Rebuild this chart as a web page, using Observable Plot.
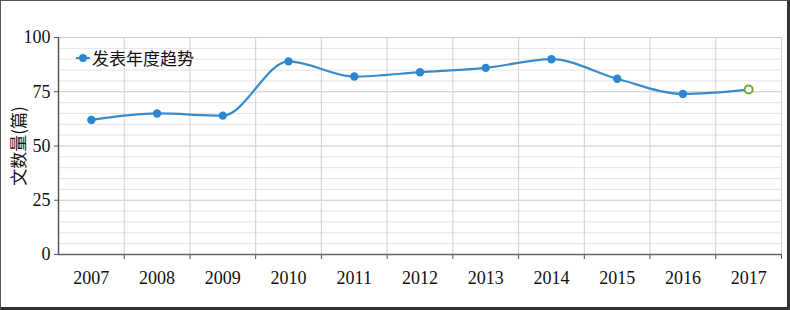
<!DOCTYPE html>
<html>
<head>
<meta charset="utf-8">
<script src="https://cdn.jsdelivr.net/npm/d3@7"></script>
<script src="https://cdn.jsdelivr.net/npm/@observablehq/plot@0.6"></script>
<style>
  html, body { margin: 0; padding: 0; background: #fff; }
  #wrap { position: relative; width: 790px; height: 310px; overflow: hidden; }
  #border { position: absolute; left: 0; top: 0; width: 790px; height: 310px; box-sizing: border-box;
    border-left: 1px solid #555; border-top: 1px solid #555; border-right: 3px solid #333; border-bottom: 3px solid #333; pointer-events: none; }
  #legend { position: absolute; left: 76px; top: 45px; display: flex; align-items: center;
    font-family: "Noto Sans CJK SC", sans-serif; font-size: 17px; color: #111; }
  #legend svg { margin-right: 2px; }
</style>
</head>
<body>
<div id="wrap">
  <div id="chart"></div>
  <div id="legend"><svg width="14" height="12"><line x1="0" y1="6" x2="14" y2="6" stroke="#3a8bc9" stroke-width="2"/><circle cx="7" cy="6" r="4" fill="#2e86d1"/></svg><span>发表年度趋势</span></div>
  <div id="border"></div>
</div>
<script>
const years = ["2007","2008","2009","2010","2011","2012","2013","2014","2015","2016","2017"];
const counts = [62, 65, 64, 89, 82, 84, 86, 90, 81, 74, 76];
const yMajorTicks = [0, 25, 50, 75, 100];
const yMinorStep = 5;
const yLabel = "文数量(篇)";

const data = years.map((y, i) => ({i, year: y, value: counts[i], last: i === years.length - 1}));
const boundaries = d3.range(-0.5, years.length, 1);
const minor = d3.range(0, 101, yMinorStep).filter(v => !yMajorTicks.includes(v));
const serif = "'Liberation Serif', 'Times New Roman', serif";

const chart = Plot.plot({
  width: 790,
  height: 310,
  marginLeft: 58,
  marginRight: 9,
  marginTop: 37,
  marginBottom: 56,
  style: {fontFamily: serif, background: "transparent", color: "#111", overflow: "visible"},
  x: {domain: [-0.5, years.length - 0.5]},
  y: {domain: [0, 100]},
  marks: [
    Plot.ruleY(minor, {stroke: "#e4e4e4", strokeWidth: 1}),
    Plot.ruleY(yMajorTicks.filter(v => v > 0), {stroke: "#cacaca", strokeWidth: 1}),
    Plot.ruleX(boundaries.slice(1), {stroke: "#d2d2d2", strokeWidth: 1}),
    Plot.ruleX(boundaries.slice(1), {y1: 0, y2: 0, insetBottom: -5, stroke: "#555", strokeWidth: 1}),
    Plot.ruleY([0], {stroke: "#666", strokeWidth: 1.5}),
    Plot.ruleX([boundaries[0]], {stroke: "#555", strokeWidth: 1.5}),
    Plot.axisY(yMajorTicks, {
      tickSize: 4, tickPadding: 4, fontSize: 18, fontFamily: serif, stroke: "#555",
      label: yLabel, labelAnchor: "center", labelArrow: "none", labelOffset: 46
    }),
    Plot.axisX(data.map(d => d.i), {
      tickSize: 0, tickPadding: 17, fontSize: 18, fontFamily: serif,
      tickFormat: i => years[i], label: null
    }),
    Plot.line(data, {x: "i", y: "value", curve: "monotone-x", stroke: "#3a8bc9", strokeWidth: 2.2}),
    Plot.dot(data.filter(d => !d.last), {x: "i", y: "value", r: 4.2, fill: "#2e86d1"}),
    Plot.dot(data.filter(d => d.last), {x: "i", y: "value", r: 4, fill: "#fff", stroke: "#6aab3c", strokeWidth: 2})
  ]
});
chart.querySelectorAll("g[aria-label='y-axis label'] text").forEach(t => {
  t.style.fontFamily = "'Noto Sans CJK SC', sans-serif";
  t.style.fontSize = "17px";
});
document.getElementById("chart").append(chart);
</script>
</body>
</html>
